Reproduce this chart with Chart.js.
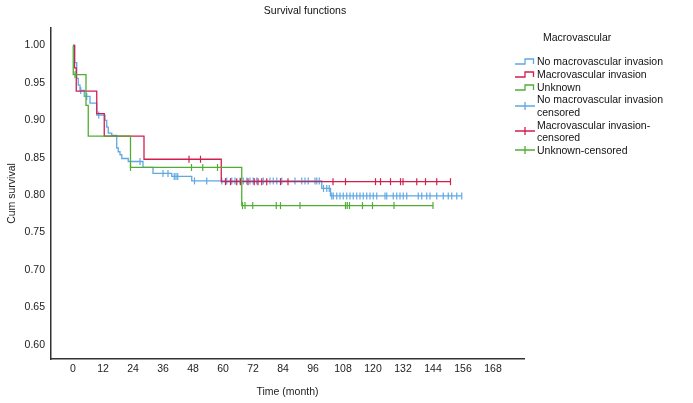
<!DOCTYPE html>
<html><head><meta charset="utf-8">
<script src="https://cdn.jsdelivr.net/npm/chart.js@4/dist/chart.umd.min.js"></script>
<style>
html,body{margin:0;padding:0;background:#fff;}
#wrap{position:relative;width:693px;height:403px;font-family:"Liberation Sans",Arial,Helvetica,sans-serif;color:#111;overflow:hidden;}
#c{position:absolute;left:0;top:0;}
.t{position:absolute;font-size:10.5px;line-height:12.5px;white-space:nowrap;}
.ic{position:absolute;overflow:visible;}
</style></head><body>
<div id="wrap"><canvas id="c" width="693" height="403"></canvas>
<div class="t" style="left:0;width:610px;text-align:center;top:4px;">Survival functions</div>
<div id="legend"></div>
</div>
<script>
// ---- data ----
const xTickValues = [0, 12, 24, 36, 48, 60, 72, 84, 96, 108, 120, 132, 144, 156, 168];
const yTickValues = [0.60, 0.65, 0.70, 0.75, 0.80, 0.85, 0.90, 0.95, 1.00];

const seriesNames = ["No macrovascular invasion", "Macrovascular invasion", "Unknown"];
const censorNames = [["No macrovascular invasion", "censored"], ["Macrovascular invasion-", "censored"], ["Unknown-censored"]];
const legendTitle = "Macrovascular";

// No macrovascular invasion: event times (months) and survival after each step
const blueTimes = [0, 0.7, 1.5, 2.1, 2.8, 4.5, 6.8, 9.5, 12.8, 13.5, 14.1, 15.5, 17.5, 18.1, 18.8, 19.5, 22.1, 28, 32, 39.5, 47.5, 99.5, 103, 155.5];
const blueSurv  = [1, 0.977, 0.956, 0.947, 0.94, 0.932, 0.923, 0.907, 0.9, 0.891, 0.883, 0.88, 0.863, 0.858, 0.854, 0.849, 0.845, 0.837, 0.829, 0.825, 0.819, 0.809, 0.799, 0.799];
const blueCensor = [3.1, 5.5, 10.3, 26.8, 36, 38, 40.5, 41.2, 41.9, 48.6, 53.5, 59.5, 61.5, 63.5, 64.8, 66.8, 68.1, 69.5, 70.8, 72.1, 73.5, 76.1, 78.8, 80.1, 81.5, 83.5, 88.8, 91.5, 92.8, 94.1, 96.8, 97.5, 98.5, 100.2, 101.5, 102.5, 103.5, 104.1, 105.5, 106.8, 108.1, 109.5, 110.8, 112.1, 113.5, 114.8, 116.1, 117.5, 118.8, 120.1, 121.5, 124.8, 125.5, 128.1, 129.5, 130.8, 132.1, 133.5, 138.1, 139.5, 141.5, 142.8, 145.5, 148.1, 150.1, 151.5, 153.5, 155.5];

// Macrovascular invasion
const redTimes = [0, 0.6, 1.3, 9.5, 12.5, 28.4, 59.3, 151];
const redSurv  = [1, 0.970, 0.939, 0.909, 0.879, 0.848, 0.818, 0.818];
const redCensor = [46.4, 51, 61, 63, 65.5, 67, 70, 72.5, 74, 75.5, 77.5, 83, 86, 104, 109, 121, 123, 127, 131, 132, 137.5, 141, 145.5, 151];

// Unknown
const greenTimes = [0, 0.1, 5.2, 6.1, 23, 67.5, 144];
const greenSurv  = [1, 0.961, 0.92, 0.879, 0.837, 0.786, 0.786];
const greenCensor = [0.8, 23, 47.4, 51.9, 57.8, 67.8, 68.8, 71.9, 81.3, 83, 90.8, 109, 109.7, 110.6, 115.8, 119.8, 128.4, 144];

// ---- styles ----
const colors = ["#5fa8e4", "#d21f4e", "#50ad33"];
const FONT = '"Liberation Sans", Arial, Helvetica, sans-serif';

function stepPoints(times, surv) { return times.map((t, i) => ({x: t, y: surv[i]})); }
function survAt(times, surv, t) {
  let s = surv[0];
  for (let i = 0; i < times.length; i++) { if (times[i] <= t) s = surv[i]; }
  return s;
}
function censorPoints(times, surv, cens) { return cens.map(t => ({x: t, y: survAt(times, surv, t)})); }

const groups = [
  [blueTimes, blueSurv, blueCensor],
  [redTimes, redSurv, redCensor],
  [greenTimes, greenSurv, greenCensor]
];

const datasets = [];
groups.forEach((g, i) => {
  datasets.push({
    label: seriesNames[i], data: stepPoints(g[0], g[1]), stepped: 'before',
    borderColor: colors[i], borderWidth: 1.3, pointRadius: 0, fill: false,
    order: 6 - 2 * i
  });
  datasets.push({
    label: censorNames[i].join(' '), data: censorPoints(g[0], g[1], g[2]), showLine: false,
    pointStyle: 'line', pointRotation: 90, pointRadius: 3.5, pointBorderWidth: 1.2,
    pointBorderColor: colors[i], borderColor: colors[i], backgroundColor: colors[i],
    order: 5 - 2 * i
  });
});

new Chart(document.getElementById('c'), {
  type: 'line',
  data: {datasets},
  options: {
    responsive: false, animation: false, devicePixelRatio: 1,
    layout: {padding: {left: 0, right: 169, top: 28, bottom: 0}},
    plugins: {legend: {display: false}, title: {display: false}, tooltip: {enabled: false}},
    scales: {
      x: {
        type: 'linear', min: -8.8, max: 180.4,
        grid: {display: false, drawTicks: false},
        border: {display: true, color: '#333', width: 1.5},
        afterBuildTicks: s => { s.ticks = xTickValues.map(v => ({value: v})); },
        afterFit: s => { s.height = 44; },
        ticks: {padding: 4, color: '#222', autoSkip: false, maxRotation: 0, font: {size: 10.5, family: FONT},
                callback: v => String(v)},
        title: {display: true, text: 'Time (month)', color: '#222', font: {size: 10.5, family: FONT}, padding: {top: 4, bottom: 5}}
      },
      y: {
        type: 'linear', min: 0.581, max: 1.0234,
        grid: {display: false, drawTicks: false},
        border: {display: true, color: '#333', width: 1.5},
        afterBuildTicks: s => { s.ticks = yTickValues.map(v => ({value: v})); },
        afterFit: s => { s.width = 51; },
        ticks: {padding: 6, color: '#222', font: {size: 10.5, family: FONT}, callback: v => Number(v).toFixed(2)},
        title: {display: true, text: 'Cum survival', color: '#222', font: {size: 10.5, family: FONT}, padding: {top: 6, bottom: 4}}
      }
    }
  }
});

// ---- legend (HTML) ----
const lg = document.getElementById('legend');
function addText(txt, left, cy) {
  const d = document.createElement('div'); d.className = 't';
  d.style.left = left + 'px'; d.style.top = (cy - 6.5) + 'px'; d.textContent = txt; lg.appendChild(d);
}
function addSvg(inner, cy) {
  const ns = 'http://www.w3.org/2000/svg';
  const s = document.createElementNS(ns, 'svg');
  s.setAttribute('class', 'ic'); s.setAttribute('width', '22'); s.setAttribute('height', '12');
  s.style.left = '514px'; s.style.top = (cy - 6) + 'px';
  s.innerHTML = inner; lg.appendChild(s);
}
addText(legendTitle, 543, 37);
const stepRows = [61.7, 74.5, 87.5];
seriesNames.forEach((n, i) => {
  addSvg(`<path d="M1 8 H11 V3 H19.5 V8" fill="none" stroke="${colors[i]}" stroke-width="1.3"/>`, stepRows[i]);
  addText(n, 537, stepRows[i]);
});
const censRows = [[99.5, 112], [125, 137.5], [150]];
censorNames.forEach((lines, i) => {
  const rows = censRows[i];
  const cy = (rows[0] + rows[rows.length - 1]) / 2;
  addSvg(`<path d="M1 6 H21 M11 2 V10" fill="none" stroke="${colors[i]}" stroke-width="1.3"/>`, cy);
  lines.forEach((l, k) => addText(l, 537, rows[k]));
});
</script>
</body></html>
